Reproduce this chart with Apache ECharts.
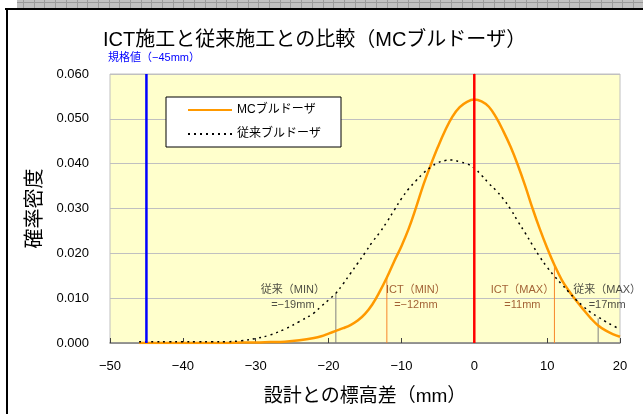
<!DOCTYPE html>
<html>
<head>
<meta charset="utf-8">
<script src="https://cdn.jsdelivr.net/npm/echarts@6/dist/echarts.min.js"></script>
<style>
html,body{margin:0;padding:0;background:#fff;}
#c{width:643px;height:414px;}
</style>
</head>
<body>
<div id="c"></div>
<script>
// ---- data ----
const xValues = [-46,-44,-42,-40,-38,-36,-34,-32,-30,-28,-26,-24,-22,-21,-20,-19,-18,-17,-16,-15,-14,-13,-12,-11,-10,-9,-8,-7,-6,-5,-4,-3,-2,-1,0,1,2,3,4,5,6,7,8,9,10,11,12,13,14,15,16,17,18,19,20];
const mcValues = [0,0,0,0,0,0,0,0.0001,0.0001,0.0002,0.0003,0.0006,0.0011,0.0015,0.0021,0.0027,0.0033,0.0040,0.0050,0.0065,0.0086,0.0114,0.0146,0.0182,0.0216,0.0255,0.0302,0.0352,0.0396,0.0437,0.0474,0.0505,0.0526,0.0538,0.0543,0.0539,0.0527,0.0503,0.0472,0.0437,0.0396,0.0350,0.0300,0.0254,0.0212,0.0174,0.0141,0.0116,0.0094,0.0074,0.0055,0.0039,0.0028,0.0020,0.0014];
const convValues = [0.0003,0.0003,0.0003,0.0003,0.0003,0.0003,0.0003,0.0005,0.0010,0.0018,0.0031,0.0048,0.0067,0.0082,0.0096,0.0111,0.0132,0.0155,0.0178,0.0201,0.0225,0.0246,0.0270,0.0296,0.0322,0.0344,0.0362,0.0379,0.0392,0.0402,0.0407,0.0408,0.0404,0.0400,0.0390,0.0374,0.0356,0.0340,0.0321,0.0298,0.0271,0.0245,0.0218,0.0192,0.0169,0.0149,0.0131,0.0113,0.0096,0.0081,0.0068,0.0058,0.0048,0.0039,0.0031];
const seriesNames = ['MCブルドーザ','従来ブルドーザ'];
const specLimit = -45;          // 規格値
const designZero = 0;           // 設計値
const yTop = 0.06;
const ictLimits = [-12, 11];    // ICT(MIN), ICT(MAX)
const ictHeights = [0.0148, 0.0174];
const convLimits = [-19, 17];   // 従来(MIN), 従来(MAX)
const convHeights = [0.0109, 0.0055];
const limitTitles = ['従来（MIN）','ICT（MIN）','ICT（MAX）','従来（MAX）'];
const xTicks = {min:-50, max:20, interval:10};
const yTicks = {min:0, max:0.06, interval:0.01};
const titleText = 'ICT施工と従来施工との比較（MCブルドーザ）';
const specText = '規格値（−45mm）';
const xName = '設計との標高差（mm）';
const yName = '確率密度';

// ---- chart ----
const FONT = '"Liberation Sans","Noto Sans CJK JP",sans-serif';
const fix = s => String(s).replace(/-/g,'−');
const pair = (a,b)=>a.map((v,i)=>[v,b[i]]);

function vline(x, h, color, width, z){
  return {type:'line', data:[[x,0],[x,h]], symbol:'none', silent:true, z:z||3,
          lineStyle:{color:color, width:width}, animation:false};
}
function labelSeries(x, title, color, dx){
  return {type:'scatter', data:[[x,0]], symbolSize:0, silent:true, z:6, animation:false,
    label:{show:true, position:'inside', offset:[dx,-46], color:color, fontSize:11,
      fontFamily:FONT, lineHeight:15, align:'center',
      formatter: title + '\n' + fix('=' + x + 'mm')}};
}

const graphics = [];
// spreadsheet strip and frame
graphics.push({type:'rect', shape:{x:17,y:0,width:626,height:8}, style:{fill:'#c0c0c0'}, silent:true});
for(let gx=23; gx<643; gx+=10.7){
  graphics.push({type:'line', shape:{x1:Math.round(gx)+0.5,y1:0,x2:Math.round(gx)+0.5,y2:8}, style:{stroke:'#9a9a9a',lineWidth:1}, silent:true});
}
graphics.push({type:'line', shape:{x1:17,y1:2.5,x2:643,y2:2.5}, style:{stroke:'#9a9a9a',lineWidth:1}, silent:true});
graphics.push({type:'line', shape:{x1:5,y1:9,x2:643,y2:9}, style:{stroke:'#000',lineWidth:2}, silent:true});
graphics.push({type:'line', shape:{x1:7,y1:8,x2:7,y2:414}, style:{stroke:'#000',lineWidth:2}, silent:true});
graphics.push({type:'text', left:108, top:52, style:{text:specText, fill:'#0000ff', font:'11px '+FONT}, silent:true});

const chart = echarts.init(document.getElementById('c'), null, {renderer:'canvas'});
chart.setOption({
  animation:false,
  backgroundColor:'#ffffff',
  textStyle:{fontFamily:FONT},
  title:{text:titleText, left:98, top:25, textStyle:{fontSize:20, fontWeight:'normal', color:'#000', fontFamily:FONT}},
  graphic:graphics,
  legend:{data:seriesNames, orient:'vertical', left:166, top:97, backgroundColor:'#fff',
    borderColor:'#000', borderWidth:1, borderRadius:0, padding:[7,20,7,21], itemGap:12,
    itemWidth:44, itemHeight:14, itemStyle:{opacity:0, borderWidth:0},
    textStyle:{fontSize:12, color:'#000', fontFamily:FONT}},
  grid:{left:110, right:23, top:74, bottom:71, show:true, backgroundColor:'#ffffcc', borderColor:'#c0c0c0', borderWidth:1},
  xAxis:{type:'value', min:xTicks.min, max:xTicks.max, interval:xTicks.interval,
    name:xName, nameLocation:'middle', nameGap:44,
    nameTextStyle:{fontSize:19, color:'#000', fontFamily:FONT},
    axisLine:{lineStyle:{color:'#808080', width:1.5}}, axisTick:{inside:true, length:5, lineStyle:{color:'#404040'}},
    splitLine:{show:false},
    axisLabel:{fontSize:13, color:'#000', margin:17, formatter:v=>fix(v), fontFamily:FONT}},
  yAxis:{type:'value', min:yTicks.min, max:yTicks.max, interval:yTicks.interval,
    name:yName, nameLocation:'middle', nameRotate:90, nameGap:64,
    nameTextStyle:{fontSize:20, color:'#000', fontFamily:FONT},
    axisLine:{show:true, lineStyle:{color:'#a0a0a0'}}, axisTick:{show:false},
    splitLine:{lineStyle:{color:'#c0c0c0', width:1}},
    axisLabel:{fontSize:13, color:'#000', margin:21, formatter:v=>v.toFixed(3), fontFamily:FONT}},
  series:[
    {name:seriesNames[0], type:'line', data:pair(xValues,mcValues), symbol:'none', smooth:0.4, z:4,
      lineStyle:{color:'#ff9900', width:2.5}, itemStyle:{color:'#ff9900'}},
    {name:seriesNames[1], type:'line', data:pair(xValues,convValues), symbol:'none', smooth:0.4, z:4,
      lineStyle:{color:'#000', width:1.5, type:[2,4]}, itemStyle:{color:'#000'}},
    vline(specLimit, yTop, '#0000ff', 2.5, 5),
    vline(designZero, yTop, '#ff0000', 2.5, 5),
    vline(convLimits[0], convHeights[0], '#808080', 1),
    vline(ictLimits[0], ictHeights[0], '#f7862a', 1),
    vline(ictLimits[1], ictHeights[1], '#f7862a', 1),
    vline(convLimits[1], convHeights[1], '#808080', 1),
    labelSeries(convLimits[0], limitTitles[0], '#222', -43),
    labelSeries(ictLimits[0], limitTitles[1], '#8b3a0e', 29),
    labelSeries(ictLimits[1], limitTitles[2], '#8b3a0e', -32),
    labelSeries(convLimits[1], limitTitles[3], '#222', 9)
  ]
});
</script>
</body>
</html>
